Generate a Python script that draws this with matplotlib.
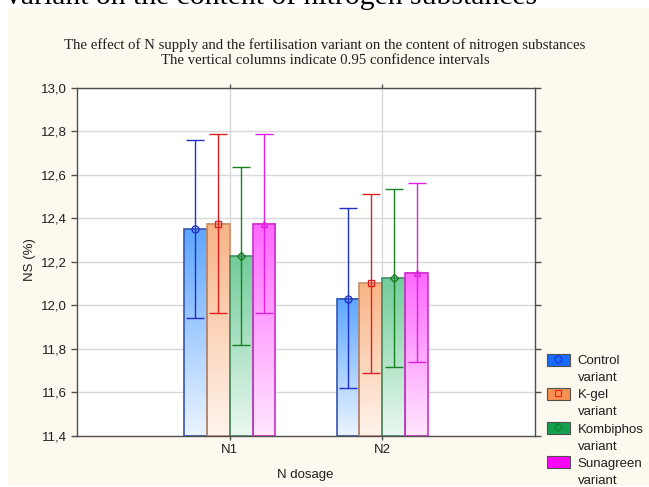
import numpy as np
import matplotlib
matplotlib.use("Agg")
import matplotlib.pyplot as plt
from matplotlib.patches import Rectangle, Patch
from matplotlib.lines import Line2D
from matplotlib.colors import to_rgb

doses = ["N1", "N2"]
variant_names = ["Control", "K-gel", "Kombiphos", "Sunagreen"]

# mean NS (%) per variant, one value per dose
means = {
    "Control": [12.35, 12.03],
    "K-gel": [12.375, 12.10],
    "Kombiphos": [12.225, 12.125],
    "Sunagreen": [12.375, 12.15],
}
ci_low = {
    "Control": [11.94, 11.62],
    "K-gel": [11.965, 11.69],
    "Kombiphos": [11.815, 11.715],
    "Sunagreen": [11.965, 11.74],
}
ci_high = {
    "Control": [12.76, 12.445],
    "K-gel": [12.785, 12.51],
    "Kombiphos": [12.635, 12.535],
    "Sunagreen": [12.785, 12.56],
}

y_ticks = [11.4, 11.6, 11.8, 12.0, 12.2, 12.4, 12.6, 12.8, 13.0]
y_tick_labels = ["11,4", "11,6", "11,8", "12,0", "12,2", "12,4", "12,6", "12,8", "13,0"]

title = ("The effect of N supply and the fertilisation variant on the content of nitrogen substances\n"
         "The vertical columns indicate 0.95 confidence intervals")
caption = "variant on the content of nitrogen substances"

styles = {
    "Control": dict(top="#5ea6ff", bottom="#eaf4ff", edge="#3456b4", err="#2030c8", marker="o", legend="#1a6cff"),
    "K-gel": dict(top="#f8b486", bottom="#fff4ec", edge="#c8906a", err="#e02020", marker="s", legend="#f89050"),
    "Kombiphos": dict(top="#72cc9a", bottom="#eaf8f0", edge="#40906a", err="#188020", marker="D", legend="#10a050"),
    "Sunagreen": dict(top="#ff68ff", bottom="#ffe6ff", edge="#d030d0", err="#e020e0", marker="^", legend="#ff00ff"),
}

cream = "#fdf9ee"
y_min, y_max = 11.4, 13.0
bar_w = 0.15

fig = plt.figure(figsize=(6.49, 4.87), dpi=100, facecolor="white")
fig.patches.append(Rectangle((8 / 649, 0.002), 1, 1 - 7.5 / 487 - 0.002, transform=fig.transFigure,
                             facecolor=cream, edgecolor="none", zorder=-10))

# last line of the document caption above the chart, cut off at the top edge
fig.text(6 / 649, 1.0 - 4.5 / 487, caption, family="Liberation Serif",
         fontsize=21.3, va="baseline", ha="left", color="black")

ax = fig.add_axes([77 / 649, 1 - 435.7 / 487, 458 / 649, 348 / 487])
ax.set_facecolor("white")

x = np.arange(1, len(doses) + 1)
for i, name in enumerate(variant_names):
    st = styles[name]
    xs = x + (i - 1.5) * bar_w
    top = np.array(to_rgb(st["top"]))
    bot = np.array(to_rgb(st["bottom"]))
    t = np.linspace(0, 1, 64)[:, None]
    grad = (top * (1 - t) + bot * t)[:, None, :]
    for xc, m in zip(xs, means[name]):
        ax.imshow(grad, extent=[xc - bar_w / 2, xc + bar_w / 2, y_min, m], aspect="auto", zorder=2,
                  interpolation="bilinear")
    ax.bar(xs, np.array(means[name]) - y_min, bottom=y_min, width=bar_w, facecolor="none",
           edgecolor=st["edge"], linewidth=1.2, zorder=3)
    lo = np.array(means[name]) - np.array(ci_low[name])
    hi = np.array(ci_high[name]) - np.array(means[name])
    ax.errorbar(xs, means[name], yerr=[lo, hi], fmt=st["marker"], color=st["err"], mfc="none",
                ms=5 if st["marker"] != "D" else 4, mew=1, elinewidth=1, capsize=6.8, capthick=1, zorder=4)

ax.set_xlim(0, 3)
ax.set_ylim(y_min, y_max)
ax.set_xticks(x)
ax.set_xticklabels(doses)
ax.set_yticks(y_ticks)
ax.set_yticklabels(y_tick_labels)
ax.grid(True, color="#d8d8d8", linewidth=1, zorder=0)
ax.set_axisbelow(True)
for sp in ax.spines.values():
    sp.set_color("#505050")
    sp.set_linewidth(1)
    sp.set_zorder(5)
ax.tick_params(axis="y", direction="out", length=4, width=1, color="#505050", labelsize=9.5, pad=3,
               right=True)
ax.tick_params(axis="x", direction="out", length=3, width=1, color="#505050", labelsize=9.5, pad=3, top=True)
for lbl in ax.get_xticklabels() + ax.get_yticklabels():
    lbl.set_family("Liberation Sans")
    lbl.set_color("#202020")

ax.set_xlabel("N dosage", family="Liberation Sans", fontsize=9.5, color="#202020")
ax.set_ylabel("NS (%)", family="Liberation Sans", fontsize=9.5, color="#202020")
ax.xaxis.set_label_coords((305 - 77) / 458, -(469 - 435.7) / 348)
ax.yaxis.set_label_coords(-(77 - 36) / 458, (435.7 - 260) / 348)

fig.text(325 / 649, 1 - 52.5 / 487, title, ha="center", va="center", family="Liberation Serif",
         fontsize=10.6, color="#202020", linespacing=1.25)

# legend: one row per text line, the swatch sits next to the variant name
handles, labels = [], []
blank = Patch(facecolor="none", edgecolor="none")
for name in variant_names:
    st = styles[name]
    handles.append((Patch(facecolor=st["legend"], edgecolor="#505050", linewidth=0.8),
                    Line2D([], [], marker=st["marker"], color=st["err"], mfc="none", ls="none",
                           ms=5 if st["marker"] != "D" else 4, mew=0.8)))
    labels.append(name)
    handles.append(blank)
    labels.append("variant")
leg = fig.legend(handles, labels, loc="upper left", bbox_to_anchor=(547 / 649, 1 - 353.5 / 487),
                 frameon=False, prop={"family": "Liberation Sans", "size": 9.5}, handlelength=1.74,
                 handleheight=1.06, handletextpad=0.6, labelspacing=0.26, borderaxespad=0, borderpad=0)
for t in leg.get_texts():
    t.set_color("#202020")

fig.savefig("out.png", dpi=100, facecolor=fig.get_facecolor())
